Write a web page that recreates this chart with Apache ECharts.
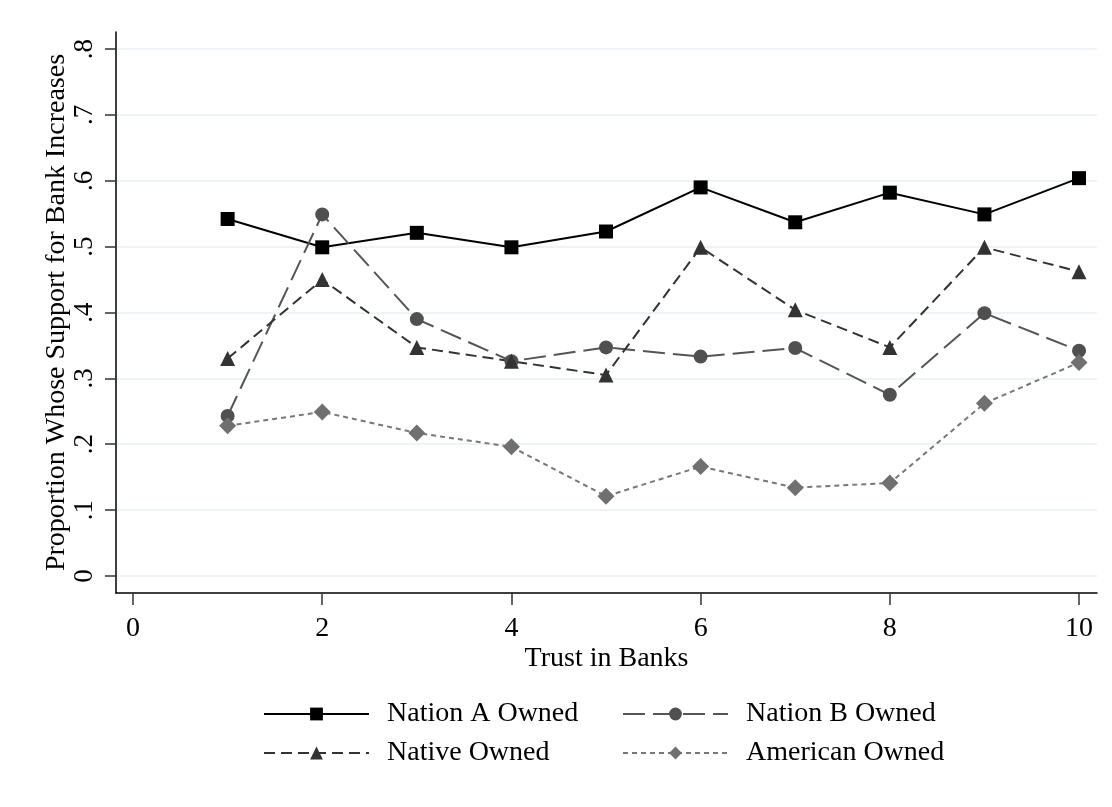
<!DOCTYPE html>
<html>
<head>
<meta charset="utf-8">
<script src="https://cdn.jsdelivr.net/npm/echarts@6/dist/echarts.min.js"></script>
<style>
html,body{margin:0;padding:0;background:#fff;}
#chart{width:1112px;height:807px;}
</style>
</head>
<body>
<div id="chart"></div>
<script>
const trust = [1, 2, 3, 4, 5, 6, 7, 8, 9, 10];
const nationA = [0.542, 0.499, 0.521, 0.499, 0.523, 0.590, 0.537, 0.582, 0.549, 0.604];
const nationB = [0.243, 0.549, 0.390, 0.326, 0.347, 0.333, 0.346, 0.275, 0.399, 0.342];
const native = [0.330, 0.450, 0.347, 0.326, 0.305, 0.499, 0.404, 0.347, 0.499, 0.462];
const american = [0.228, 0.249, 0.217, 0.196, 0.121, 0.166, 0.134, 0.141, 0.262, 0.324];
const yTicks = [0, 0.1, 0.2, 0.3, 0.4, 0.5, 0.6, 0.7, 0.8];
const xTicks = [0, 2, 4, 6, 8, 10];

const FONT = '"Liberation Serif", "Times New Roman", serif';
const pairs = arr => trust.map((t, i) => [t, arr[i]]);
const fmtY = v => (Math.abs(v) < 1e-9 ? '0' : ('.' + Math.round(v * 10)));

const chart = echarts.init(document.getElementById('chart'), null, {renderer: 'canvas'});
chart.setOption({
  backgroundColor: '#ffffff',
  animation: false,
  grid: {left: 116, right: 15, top: 32, bottom: 214, containLabel: false},
  xAxis: {
    type: 'value', min: -0.18, max: 10.19,
    name: 'Trust in Banks', nameLocation: 'middle', nameGap: 52, nameMoveOverlap: false,
    nameTextStyle: {fontFamily: FONT, fontSize: 28, color: '#000'},
    axisLine: {show: true, onZero: false, lineStyle: {color: '#000', width: 1.5}},
    axisTick: {show: true, length: 12, customValues: xTicks, lineStyle: {color: '#333', width: 1.5}},
    axisLabel: {customValues: xTicks, margin: 22, fontFamily: FONT, fontSize: 28, color: '#000'},
    splitLine: {show: false}
  },
  yAxis: {
    type: 'value', min: -0.026, max: 0.826,
    name: 'Proportion Whose Support for Bank Increases', nameLocation: 'middle', nameGap: 45, nameMoveOverlap: false,
    nameTextStyle: {fontFamily: FONT, fontSize: 28, color: '#000'},
    axisLine: {show: true, onZero: false, lineStyle: {color: '#000', width: 1.5}},
    axisTick: {show: true, length: 11, customValues: yTicks, lineStyle: {color: '#333', width: 1.5}},
    axisLabel: {customValues: yTicks, rotate: 90, margin: 18, fontFamily: FONT, fontSize: 27, color: '#000', formatter: fmtY},
    splitLine: {show: true, lineStyle: {color: '#e8f0f2', width: 1.5}}
  },
  legend: [
    {
      left: 258, top: 695, orient: 'vertical', itemWidth: 105, itemHeight: 16, itemGap: 11,
      data: ['Nation A Owned', 'Native Owned'],
      textStyle: {fontFamily: FONT, fontSize: 28, color: '#000', lineHeight: 28, padding: [0, 0, 0, 13]}
    },
    {
      left: 617, top: 695, orient: 'vertical', itemWidth: 105, itemHeight: 16, itemGap: 11,
      data: ['Nation B Owned', 'American Owned'],
      textStyle: {fontFamily: FONT, fontSize: 28, color: '#000', lineHeight: 28, padding: [0, 0, 0, 13]}
    }
  ],
  series: [
    {
      name: 'Nation A Owned', type: 'line', data: pairs(nationA),
      symbol: 'rect', symbolSize: 14, color: '#000',
      lineStyle: {color: '#000', width: 2, type: 'solid'},
      itemStyle: {color: '#000'}
    },
    {
      name: 'Nation B Owned', type: 'line', data: pairs(nationB),
      symbol: 'circle', symbolSize: 14, color: '#555',
      lineStyle: {color: '#555', width: 2, type: [22, 8]},
      itemStyle: {color: '#505050'}
    },
    {
      name: 'Native Owned', type: 'line', data: pairs(native),
      symbol: 'triangle', symbolSize: 15, color: '#333',
      lineStyle: {color: '#333', width: 2, type: [11, 6]},
      itemStyle: {color: '#333'}
    },
    {
      name: 'American Owned', type: 'line', data: pairs(american),
      symbol: 'diamond', symbolSize: 17, color: '#777',
      lineStyle: {color: '#777', width: 2, type: [5, 4]},
      itemStyle: {color: '#707070'}
    }
  ]
});
</script>
</body>
</html>
